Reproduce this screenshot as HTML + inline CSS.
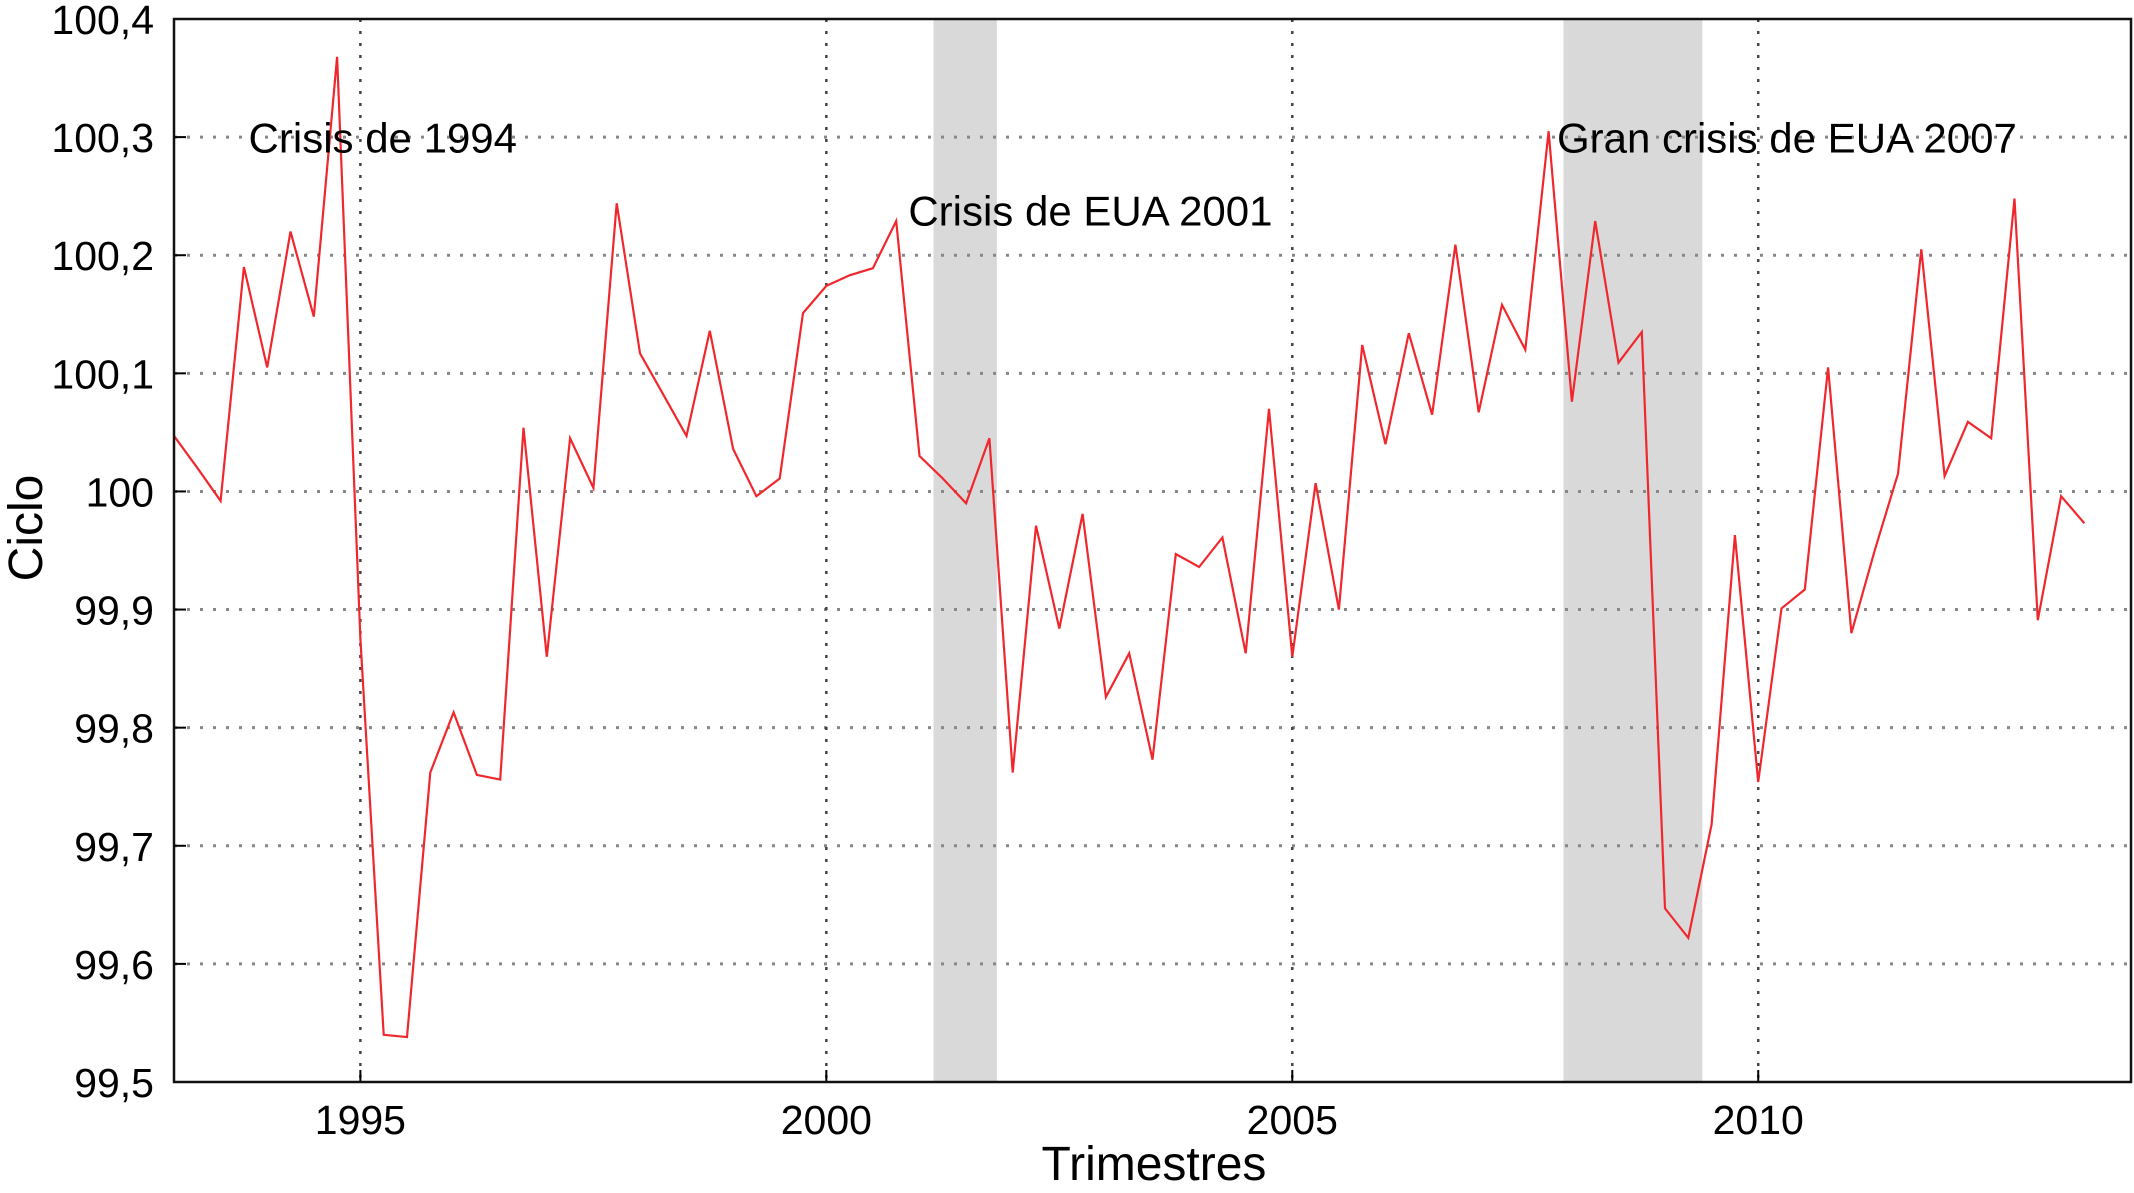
<!DOCTYPE html>
<html><head><meta charset="utf-8"><style>
html,body{margin:0;padding:0;background:#fff;}
svg{display:block;font-family:"Liberation Sans",sans-serif;}
</style></head><body>
<svg id="chart" width="2134" height="1193" viewBox="0 0 2134 1193"></svg>
<script>
const values = [100.047,100.02,99.992,100.19,100.105,100.22,100.148,100.368,99.875,99.54,99.538,99.762,99.813,99.76,99.756,100.054,99.86,100.045,100.003,100.244,100.117,100.082,100.047,100.136,100.036,99.996,100.011,100.151,100.174,100.183,100.189,100.229,100.03,100.011,99.99,100.045,99.762,99.971,99.884,99.981,99.826,99.863,99.773,99.947,99.936,99.961,99.863,100.07,99.86,100.007,99.9,100.124,100.04,100.134,100.065,100.209,100.067,100.158,100.12,100.305,100.076,100.229,100.109,100.135,99.647,99.622,99.718,99.963,99.754,99.901,99.917,100.105,99.88,99.95,100.015,100.205,100.013,100.059,100.045,100.248,99.891,99.996,99.973];
const startYear = 1993;
const yTicks = [99.5,99.6,99.7,99.8,99.9,100,100.1,100.2,100.3,100.4];
const yTickLabels = ["99,5","99,6","99,7","99,8","99,9","100","100,1","100,2","100,3","100,4"];
const xTicks = [1995,2000,2005,2010];
const recessionStarts = [2001.15,2007.91];
const recessionEnds = [2001.83,2009.4];
const annotationTexts = ["Crisis de 1994","Crisis de EUA 2001","Gran crisis de EUA 2007"];
const annotationYears = [1993.8,2000.88,2007.84];
const annotationValues = [100.287,100.225,100.287];

const L=174,R=2131,T=19,B=1082, X0=1993,X1=2014,Y0=99.5,Y1=100.4;
const sx=v=>L+(v-X0)/(X1-X0)*(R-L);
const sy=v=>B-(v-Y0)/(Y1-Y0)*(B-T);
const svg=document.getElementById('chart');
const NS='http://www.w3.org/2000/svg';
function mk(tag,attrs,text){const e=document.createElementNS(NS,tag);for(const k in attrs)e.setAttribute(k,attrs[k]);if(text!==undefined)e.textContent=text;svg.appendChild(e);return e;}

recessionStarts.forEach((s,i)=>{
  const r=mk('rect',{x:sx(s),y:T,width:sx(recessionEnds[i])-sx(s),height:B-T,fill:'#d9d9d9'});
  
  
});
yTicks.forEach((v,i)=>{
  if(i>0&&i<yTicks.length-1){
    const g=mk('line',{x1:L,x2:R,y1:sy(v),y2:sy(v),stroke:'#888','stroke-width':3,'stroke-dasharray':'3 10'});
    
    
  }
  mk('line',{x1:L,x2:L+12,y1:sy(v),y2:sy(v),stroke:'#000','stroke-width':2});
  const t=mk('text',{x:154,y:sy(v)+15,'text-anchor':'end','font-size':41,fill:'#000'},yTickLabels[i]);
  
  
});
xTicks.forEach(v=>{
  const g=mk('line',{x1:sx(v),x2:sx(v),y1:T,y2:B,stroke:'#444','stroke-width':2.5,'stroke-dasharray':'3 9'});
  
  
  mk('line',{x1:sx(v),x2:sx(v),y1:B-12,y2:B,stroke:'#000','stroke-width':2});
  const t=mk('text',{x:sx(v),y:1134,'text-anchor':'middle','font-size':41,fill:'#000'},String(v));
  
  
});
const pts=values.map((v,i)=>sx(startYear+i*0.25).toFixed(1)+','+sy(v).toFixed(1)).join(' ');
const line=mk('polyline',{points:pts,fill:'none',stroke:'#f0282d','stroke-width':2.2,'stroke-linejoin':'miter'});


annotationTexts.forEach((s,i)=>{
  const t=mk('text',{x:sx(annotationYears[i]),y:sy(annotationValues[i]),'font-size':42,fill:'#000'},s);
  
  
});
const fr=mk('rect',{x:L,y:T,width:R-L,height:B-T,fill:'none',stroke:'#111','stroke-width':2.5});


const yt=mk('text',{x:0,y:0,transform:'translate(42,528) rotate(-90)','text-anchor':'middle','font-size':48,fill:'#000'},'Ciclo');


const xt=mk('text',{x:1154,y:1180,'text-anchor':'middle','font-size':48,fill:'#000'},'Trimestres');


</script>
</body></html>
